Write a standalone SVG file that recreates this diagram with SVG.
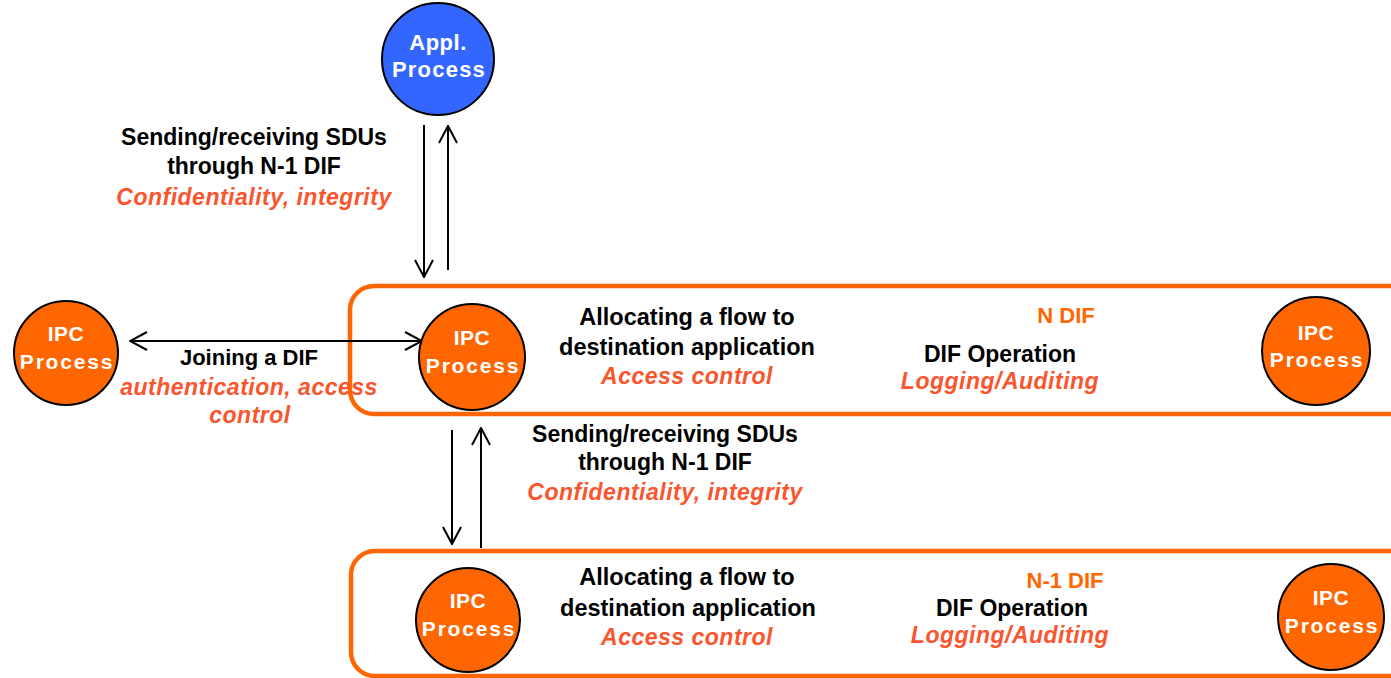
<svg xmlns="http://www.w3.org/2000/svg" width="1391" height="678" viewBox="0 0 1391 678">
<style>
.dif{fill:none;stroke:#FF6600;stroke-width:4.5}
.ipc{fill:#FF6600;stroke:#000;stroke-width:2}
.app{fill:#3366FF;stroke:#000;stroke-width:2}
.ct{font-family:"Liberation Sans",Arial,sans-serif;font-weight:bold;font-size:21px;fill:#fff;text-anchor:middle;letter-spacing:0.5px}
.cp{letter-spacing:1.8px}
.lb{font-family:"Liberation Sans",Arial,sans-serif;font-weight:bold;font-size:23px;fill:#000;text-anchor:middle}
.it{font-family:"Liberation Sans",Arial,sans-serif;font-weight:bold;font-style:italic;font-size:23px;fill:#F9552E;text-anchor:middle;letter-spacing:0.5px}
.dn{font-family:"Liberation Sans",Arial,sans-serif;font-weight:bold;font-size:22px;fill:#FF6600;text-anchor:middle}
.ln{stroke:#000;stroke-width:2;fill:none}
</style>
<defs>
<marker id="arr" viewBox="0 0 20 20" refX="19" refY="10" markerWidth="20" markerHeight="20" orient="auto-start-reverse" markerUnits="userSpaceOnUse">
<path d="M2,1 L19,10 L2,19" fill="none" stroke="#000" stroke-width="2"/>
</marker>
</defs>
<rect fill="#fff" width="1391" height="678"/>

<g id="ndif">
<rect class="dif" x="350" y="286" width="1100" height="128" rx="24"/>
<text class="dn" x="1066" y="323">N DIF</text>
<text class="lb" x="687" y="325" style="font-size:23.5px">Allocating a flow to</text>
<text class="lb" x="687" y="355" style="font-size:23.5px">destination application</text>
<text class="it" x="687" y="384">Access control</text>
<text class="lb" x="1000" y="362">DIF Operation</text>
<text class="it" x="1000" y="389">Logging/Auditing</text>
</g>

<g id="n1dif">
<rect class="dif" x="351" y="551" width="1100" height="125" rx="24"/>
<text class="dn" x="1065" y="588">N-1 DIF</text>
<text class="lb" x="687" y="585" style="font-size:23.5px">Allocating a flow to</text>
<text class="lb" x="688" y="616" style="font-size:23.5px">destination application</text>
<text class="it" x="687" y="645">Access control</text>
<text class="lb" x="1012" y="616">DIF Operation</text>
<text class="it" x="1010" y="643">Logging/Auditing</text>
</g>

<g id="connectors">
<line class="ln" x1="424" y1="125" x2="424" y2="277" marker-end="url(#arr)"/>
<line class="ln" x1="448" y1="270" x2="448" y2="126" marker-end="url(#arr)"/>
<line class="ln" x1="130" y1="341" x2="422" y2="341" marker-start="url(#arr)" marker-end="url(#arr)"/>
<line class="ln" x1="452" y1="430" x2="452" y2="544" marker-end="url(#arr)"/>
<line class="ln" x1="481" y1="548" x2="481" y2="428" marker-end="url(#arr)"/>
</g>

<g id="label-top">
<text class="lb" x="254" y="145">Sending/receiving SDUs</text>
<text class="lb" x="254" y="174">through N-1 DIF</text>
<text class="it" x="254" y="205">Confidentiality, integrity</text>
</g>

<g id="label-join">
<text class="lb" x="249" y="365" style="font-size:22px">Joining a DIF</text>
<text class="it" x="249" y="395">authentication, access</text>
<text class="it" x="250" y="423">control</text>
</g>

<g id="label-mid">
<text class="lb" x="665" y="442">Sending/receiving SDUs</text>
<text class="lb" x="665" y="470">through N-1 DIF</text>
<text class="it" x="665" y="500">Confidentiality, integrity</text>
</g>

<g id="appl">
<circle class="app" cx="438" cy="59" r="56"/>
<text class="ct" x="438" y="50" style="font-size:22px">Appl.</text>
<text class="ct cp" x="439" y="77" style="font-size:22px;letter-spacing:1.2px">Process</text>
</g>

<g id="ipc-left">
<circle class="ipc" cx="66" cy="353" r="52"/>
<text class="ct" x="66" y="341">IPC</text>
<text class="ct cp" x="67" y="369">Process</text>
</g>

<g id="ipc-n">
<circle class="ipc" cx="472" cy="357" r="53"/>
<text class="ct" x="472" y="345">IPC</text>
<text class="ct cp" x="473" y="373">Process</text>
</g>

<g id="ipc-n-right">
<circle class="ipc" cx="1316" cy="351" r="54"/>
<text class="ct" x="1316" y="340">IPC</text>
<text class="ct cp" x="1317" y="367">Process</text>
</g>

<g id="ipc-n1">
<circle class="ipc" cx="468" cy="620" r="52"/>
<text class="ct" x="468" y="608">IPC</text>
<text class="ct cp" x="469" y="636">Process</text>
</g>

<g id="ipc-n1-right">
<circle class="ipc" cx="1331" cy="617" r="53"/>
<text class="ct" x="1331" y="605">IPC</text>
<text class="ct cp" x="1332" y="633">Process</text>
</g>
</svg>
